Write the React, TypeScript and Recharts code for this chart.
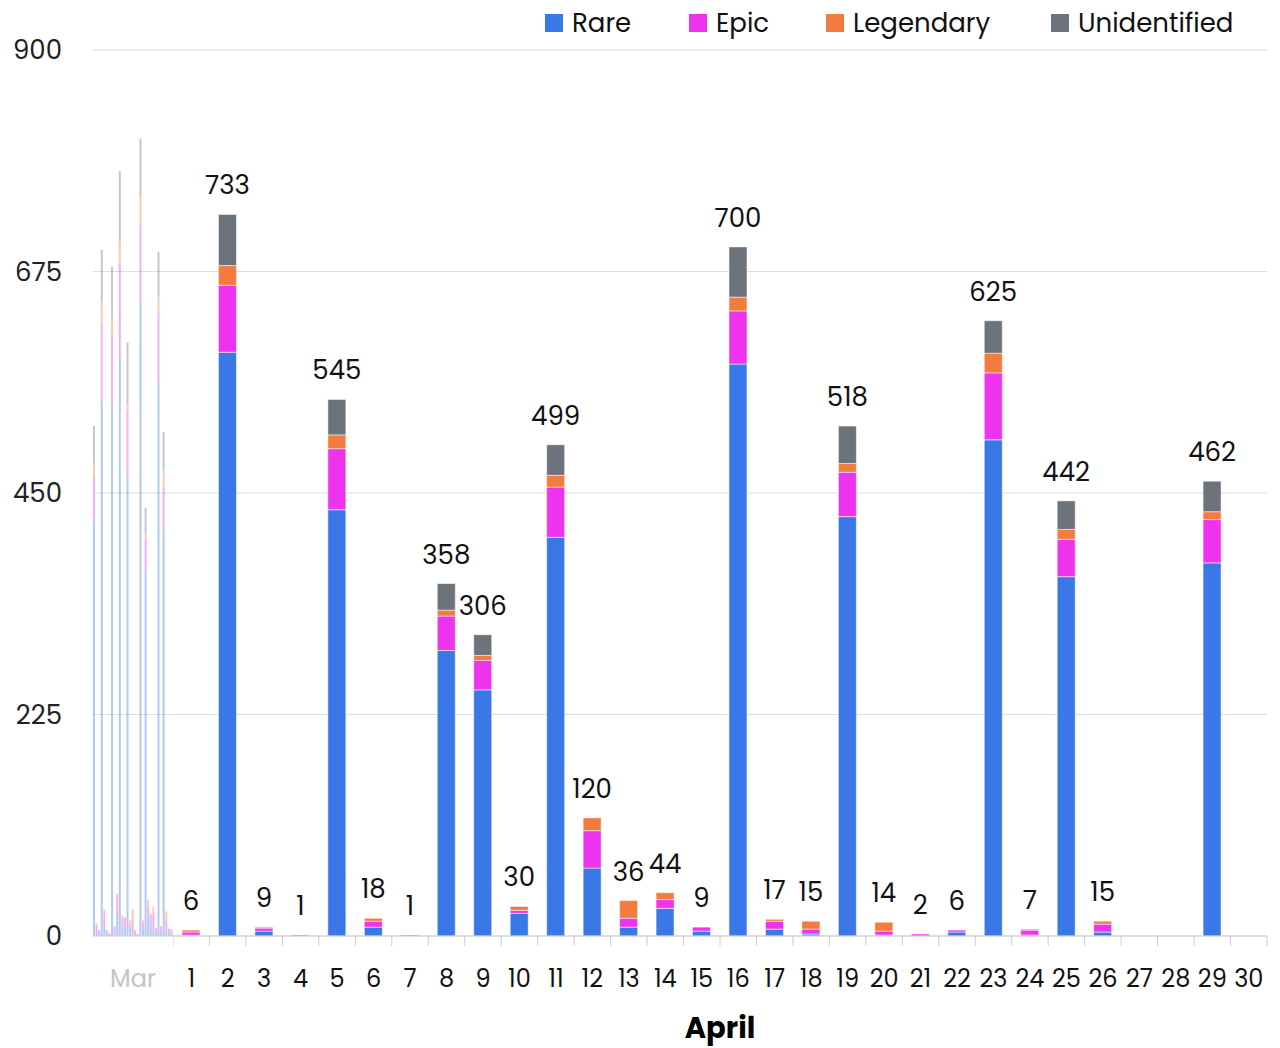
import React from 'react';
import { BarChart, Bar, XAxis, YAxis, CartesianGrid, LabelList } from 'recharts';

// March (faded, compressed on the left)
const marchDays = ['1', '2', '3', '4', '5', '6', '7', '8', '9', '10', '11', '12', '13', '14', '15', '16',
  '17', '18', '19', '20', '21', '22', '23', '24', '25', '26', '27', '28', '29', '30', '31'];
const marchRare = [420, 4, 2, 543, 8, 2, 1, 539, 3, 20, 590, 8, 7, 469, 8, 7, 3, 1, 643, 6, 370, 20, 12, 7, 2, 563, 4, 413, 7, 2, 3];
const marchEpic = [46, 6, 4, 79, 14, 4, 2, 72, 5, 20, 93, 9, 10, 65, 2, 10, 3, 1, 80, 8, 32, 10, 8, 14, 6, 69, 6, 44, 10, 4, 2];
const marchLegendary = [14, 3, 0, 22, 5, 0, 0, 16, 2, 3, 23, 4, 2, 8, 6, 10, 0, 0, 29, 2, 7, 7, 3, 9, 0, 17, 0, 16, 8, 2, 2];
const marchUnidentified = [38, 0, 0, 53, 0, 0, 0, 53, 0, 0, 71, 0, 0, 61, 0, 0, 0, 0, 58, 0, 26, 0, 0, 0, 0, 46, 0, 39, 0, 0, 0];

// April
const aprilDays = ['1', '2', '3', '4', '5', '6', '7', '8', '9', '10', '11', '12', '13', '14', '15', '16',
  '17', '18', '19', '20', '21', '22', '23', '24', '25', '26', '27', '28', '29', '30'];
const aprilRare = [1, 593, 5, 0, 433, 9, 0, 290, 250, 23, 405, 69, 9, 28, 5, 581, 7, 2, 426, 1, 0, 4, 504, 1, 365, 4, 0, 0, 379, 0];
const aprilEpic = [3, 68, 3, 1, 62, 6, 1, 35, 30, 3, 51, 38, 9, 9, 4, 54, 8, 5, 45, 4, 2, 2, 68, 5, 38, 8, 0, 0, 44, 0];
const aprilLegendary = [2, 20, 1, 0, 14, 3, 0, 6, 5, 4, 12, 13, 18, 7, 0, 14, 2, 8, 9, 9, 0, 0, 20, 1, 10, 3, 0, 0, 8, 0];
const aprilUnidentified = [0, 52, 0, 0, 36, 0, 0, 27, 21, 0, 31, 0, 0, 0, 0, 51, 0, 0, 38, 0, 0, 0, 33, 0, 29, 0, 0, 0, 31, 0];

const yTicks = [0, 225, 450, 675, 900];

const series = [
  { key: 'rare', name: 'Rare', color: '#3b78e7' },
  { key: 'epic', name: 'Epic', color: '#ee33ee' },
  { key: 'legendary', name: 'Legendary', color: '#f47b3f' },
  { key: 'unidentified', name: 'Unidentified', color: '#6c737a' },
];
const legendLeft = [545, 689, 826, 1051];

const marchData = marchDays.map((day, i) => ({
  day,
  rare: marchRare[i],
  epic: marchEpic[i],
  legendary: marchLegendary[i],
  unidentified: marchUnidentified[i],
}));

const aprilData = aprilDays.map((day, i) => ({
  day,
  rare: aprilRare[i],
  epic: aprilEpic[i],
  legendary: aprilLegendary[i],
  unidentified: aprilUnidentified[i],
  total: aprilRare[i] + aprilEpic[i] + aprilLegendary[i] + aprilUnidentified[i],
}));

// key of the highest non-empty segment of a day
const topKey = (d: any) => {
  let k = '';
  series.forEach((s) => {
    if (d[s.key] > 0) k = s.key;
  });
  return k;
};

const AprilTick = (props: any) => {
  const { x, y, payload, index } = props;
  const half = payload && payload.offset ? payload.offset : 18.23;
  return (
    <g>
      <line x1={x - half} x2={x - half} y1={y} y2={y + 10} stroke="#ccc" />
      {index === aprilDays.length - 1 && (
        <line x1={x + half} x2={x + half} y1={y} y2={y + 10} stroke="#ccc" />
      )}
      <text x={x} y={y + 51} textAnchor="middle" fontSize={24} fill="#111">
        {payload.value}
      </text>
    </g>
  );
};

const TotalLabel = (props: any) => {
  const { x, y, width, value } = props;
  if (!value) return null;
  return (
    <text x={x + width / 2} y={y - 20} textAnchor="middle" fontSize={26} fill="#111">
      {value}
    </text>
  );
};

export default function App() {
  return (
    <div style={{ position: 'relative', width: 1280, height: 1048, fontFamily: 'Poppins, Inter, sans-serif', background: '#fff' }}>
      <style>{'body{margin:0}'}</style>

      {/* legend */}
      {series.map((s, i) => (
        <div key={s.key} style={{ position: 'absolute', left: legendLeft[i], top: 9, height: 28, display: 'flex', alignItems: 'center' }}>
          <span style={{ width: 18, height: 18, background: s.color, display: 'inline-block' }} />
          <span style={{ marginLeft: 9, fontSize: 26, color: '#111' }}>{s.name}</span>
        </div>
      ))}

      {/* March part with the y axis */}
      <div style={{ position: 'absolute', left: 0, top: 0 }}>
        <BarChart width={173} height={1048} data={marchData} margin={{ top: 50, right: 0, left: 0, bottom: 0 }} barSize={2}>
          <CartesianGrid horizontal vertical={false} stroke="#ddd" />
          <XAxis
            dataKey="day"
            height={112}
            tick={false}
            tickLine={false}
            axisLine={{ stroke: '#ddd' }}
            label={{ value: 'Mar', position: 'insideTop', offset: 34, fontSize: 24, fill: '#c4c4c4' }}
          />
          <YAxis
            width={93}
            domain={[0, 900]}
            ticks={yTicks}
            axisLine={false}
            tickLine={false}
            tickSize={0}
            tickMargin={31}
            tick={{ fill: '#222', fontSize: 26 }}
          />
          {series.map((s) => (
            <Bar key={s.key} dataKey={s.key} stackId="m" fill={s.color} fillOpacity={0.4} isAnimationActive={false} />
          ))}
        </BarChart>
      </div>

      {/* April part */}
      <div style={{ position: 'absolute', left: 173, top: 0 }}>
        <BarChart width={1107} height={1048} data={aprilData} margin={{ top: 50, right: 13, left: 0, bottom: 0 }} barSize={18}>
          <CartesianGrid horizontal vertical={false} stroke="#ddd" />
          <XAxis
            dataKey="day"
            height={112}
            interval={0}
            tickSize={0}
            tickMargin={0}
            tickLine={false}
            axisLine={{ stroke: '#ccc' }}
            tick={<AprilTick />}
            label={{ value: 'April', position: 'insideTop', offset: 81, fontSize: 29, fontWeight: 700, fill: '#000' }}
          />
          <YAxis hide domain={[0, 900]} ticks={yTicks} />
          {series.map((s) => (
            <Bar
              key={s.key}
              dataKey={s.key}
              name={s.name}
              stackId="a"
              fill={s.color}
              stroke="#fff"
              strokeOpacity={0.5}
              strokeWidth={1}
              isAnimationActive={false}
            >
              <LabelList
                dataKey={(d: any) => (topKey(d) === s.key ? d.total : 0)}
                content={<TotalLabel />}
              />
            </Bar>
          ))}
        </BarChart>
      </div>
    </div>
  );
}
